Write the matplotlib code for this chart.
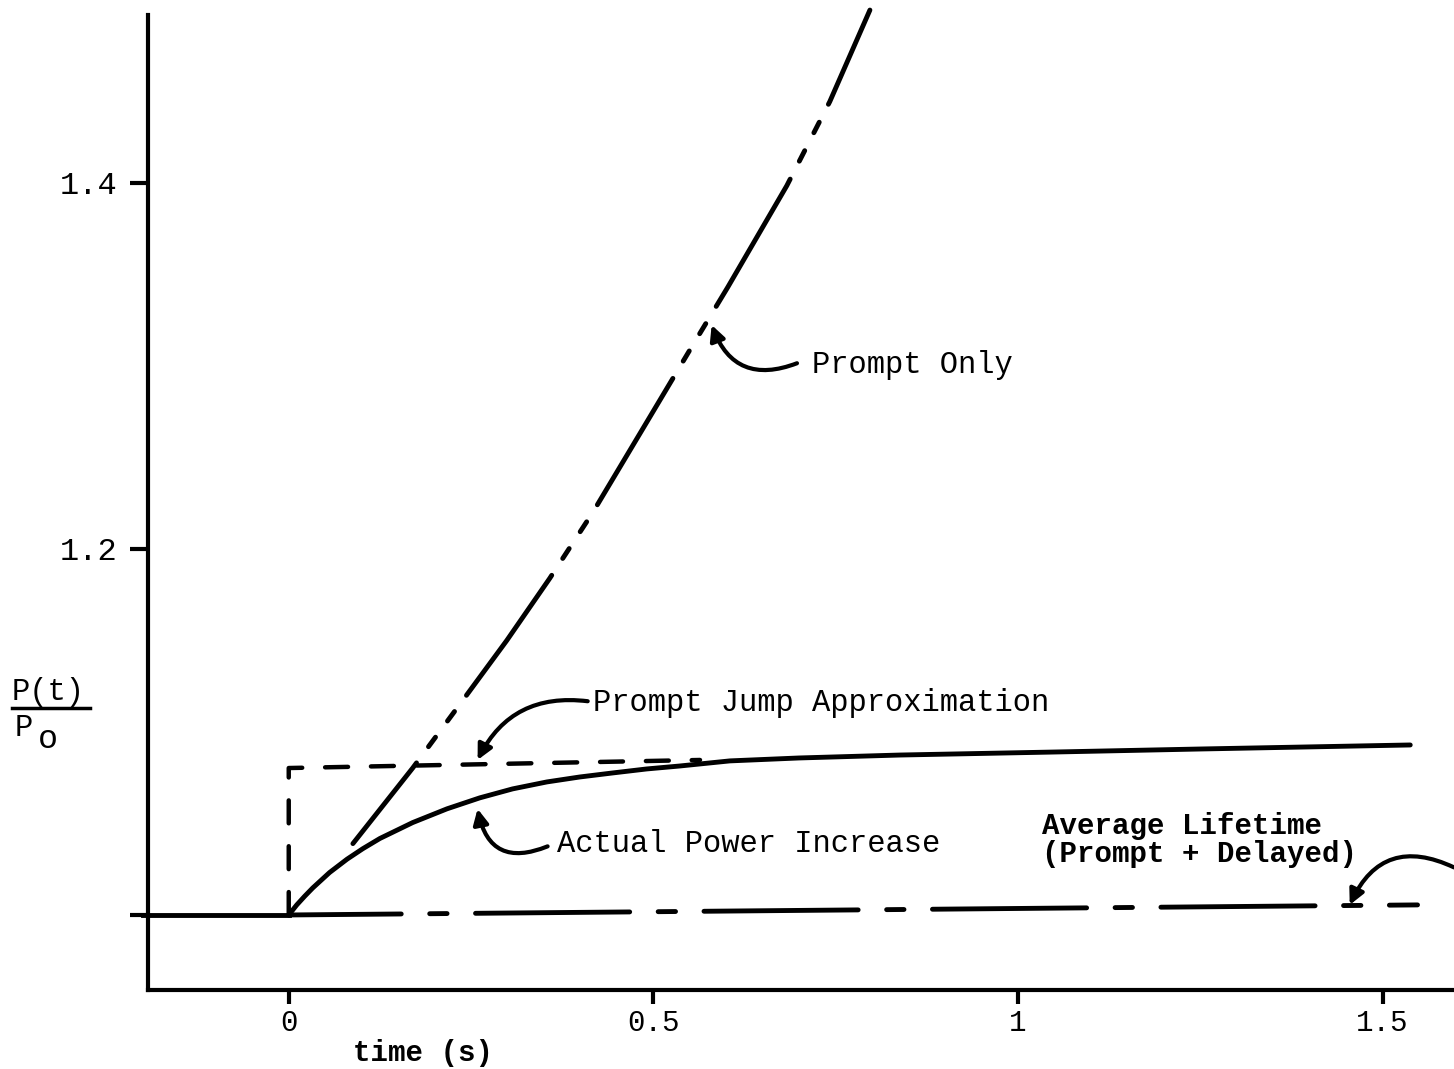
import numpy as np
import matplotlib
matplotlib.use("Agg")
import matplotlib.pyplot as plt
from matplotlib.lines import Line2D

plt.rcParams['font.family'] = ['Liberation Mono', 'DejaVu Sans Mono']
plt.rcParams['lines.scale_dashes'] = False

# curves (time in s, P(t)/P0)
prompt_only_t = [0.088, 0.170, 0.237, 0.299, 0.358, 0.417, 0.495, 0.550, 0.602, 0.683, 0.742, 0.797]
prompt_only_p = [1.039, 1.0803, 1.1164, 1.150, 1.184, 1.220, 1.272, 1.3087, 1.343, 1.3985, 1.4445, 1.4945]

actual_t = [0.0, 0.011, 0.022, 0.033, 0.056, 0.080, 0.1015, 0.125, 0.170, 0.217, 0.262, 0.307,
            0.354, 0.399, 0.444, 0.491, 0.536, 0.605, 0.70, 0.838, 1.044, 1.25, 1.538]
actual_p = [1.0, 1.0055, 1.0103, 1.0148, 1.0232, 1.0305, 1.0362, 1.0418, 1.0505, 1.058, 1.064, 1.0689,
            1.0727, 1.0754, 1.0776, 1.0798, 1.0814, 1.0842, 1.0858, 1.0874, 1.089, 1.0907, 1.0929]

jump_t = [0.0, 0.0, 0.564]
jump_p = [1.0, 1.0803, 1.0847]

pre_t = [-0.2, 0.0]
pre_p = [1.0, 1.0]
avg_t = [0.0, 1.548]
avg_p = [1.0, 1.0055]

yticks = [1.0, 1.2, 1.4]
ytick_labels = ['', '1.2', '1.4']
xticks = [0, 0.5, 1, 1.5]
xtick_labels = ['0', '0.5', '1', '1.5']

fig = plt.figure(figsize=(14.54, 10.69), dpi=100)
ax = fig.add_axes([148 / 1454, 79 / 1069, 1 - 148 / 1454, 1 - 79 / 1069])
ax.set_xlim(-0.193, 1.598)
ax.set_ylim(0.959, 1.5)

lw = 3.5
ax.plot(prompt_only_t, prompt_only_p, color='black', lw=lw, solid_capstyle='round',
        dash_capstyle='round', linestyle=(32, (106, 14.5, 8.5, 14.5, 8.5, 14.5)))
ax.plot(actual_t, actual_p, color='black', lw=lw, solid_capstyle='round', solid_joinstyle='round')
ax.plot(jump_t, jump_p, color='black', lw=3.2, dash_capstyle='round',
        linestyle=(0, (16.5, 16.5)))
ax.plot(pre_t, pre_p, color='black', lw=lw, clip_on=False)
ax.plot(avg_t, avg_p, color='black', lw=lw, dash_capstyle='round',
        linestyle=(30, (111, 20.5, 12.5, 20.5)))

for s in ['top', 'right']:
    ax.spines[s].set_visible(False)
for s in ['left', 'bottom']:
    ax.spines[s].set_linewidth(3)
ax.spines['left'].set_bounds(0.959, 1.492)

ax.set_yticks(yticks)
ax.set_yticklabels(ytick_labels, fontsize=23)
ax.set_xticks(xticks)
ax.set_xticklabels(xtick_labels, fontsize=21)
ax.tick_params(axis='y', direction='out', length=13, width=3, pad=9)
ax.tick_params(axis='x', direction='out', length=10, width=3, pad=4)

ax.text(0.088, 0.9246, 'time (s)', fontsize=21, fontweight='bold', va='center', ha='left', clip_on=False)

# y label as fraction
fig.text(12 / 1454, 1 - 692 / 1069, 'P(t)', fontsize=22, va='center', ha='left')
fig.add_artist(Line2D([12 / 1454, 90 / 1454], [1 - 708 / 1069] * 2, color='black', lw=2.5))
fig.text(15 / 1454, 1 - 728 / 1069, 'P', fontsize=22, va='center', ha='left')
fig.text(38 / 1454, 1 - 740 / 1069, 'o', fontsize=24, va='center', ha='left')

arrow = dict(arrowstyle='-|>,head_length=0.9,head_width=0.45', lw=3, color='black',
             shrinkA=0, shrinkB=0)

ax.annotate('', xy=(0.58, 1.3224), xytext=(0.697, 1.3015),
            arrowprops=dict(arrow, connectionstyle='arc3,rad=-0.5'))
ax.text(0.717, 1.3005, 'Prompt Only', fontsize=22, va='center', ha='left')

ax.annotate('', xy=(0.259, 1.0847), xytext=(0.41, 1.1168),
            arrowprops=dict(arrow, connectionstyle='arc3,rad=0.35'))
ax.text(0.417, 1.1158, 'Prompt Jump Approximation', fontsize=22, va='center', ha='left')

ax.annotate('', xy=(0.259, 1.058), xytext=(0.355, 1.0375),
            arrowprops=dict(arrow, connectionstyle='arc3,rad=-0.6'))
ax.text(0.368, 1.039, 'Actual Power Increase', fontsize=22, va='center', ha='left')

ax.annotate('', xy=(1.455, 1.0055), xytext=(1.598, 1.026),
            arrowprops=dict(arrow, connectionstyle='arc3,rad=0.5'), annotation_clip=False)
ax.text(1.033, 1.041, 'Average Lifetime\n(Prompt + Delayed)', fontsize=21, fontweight='bold',
        va='center', ha='left', linespacing=1.0)

fig.savefig('out.png', dpi=100)
